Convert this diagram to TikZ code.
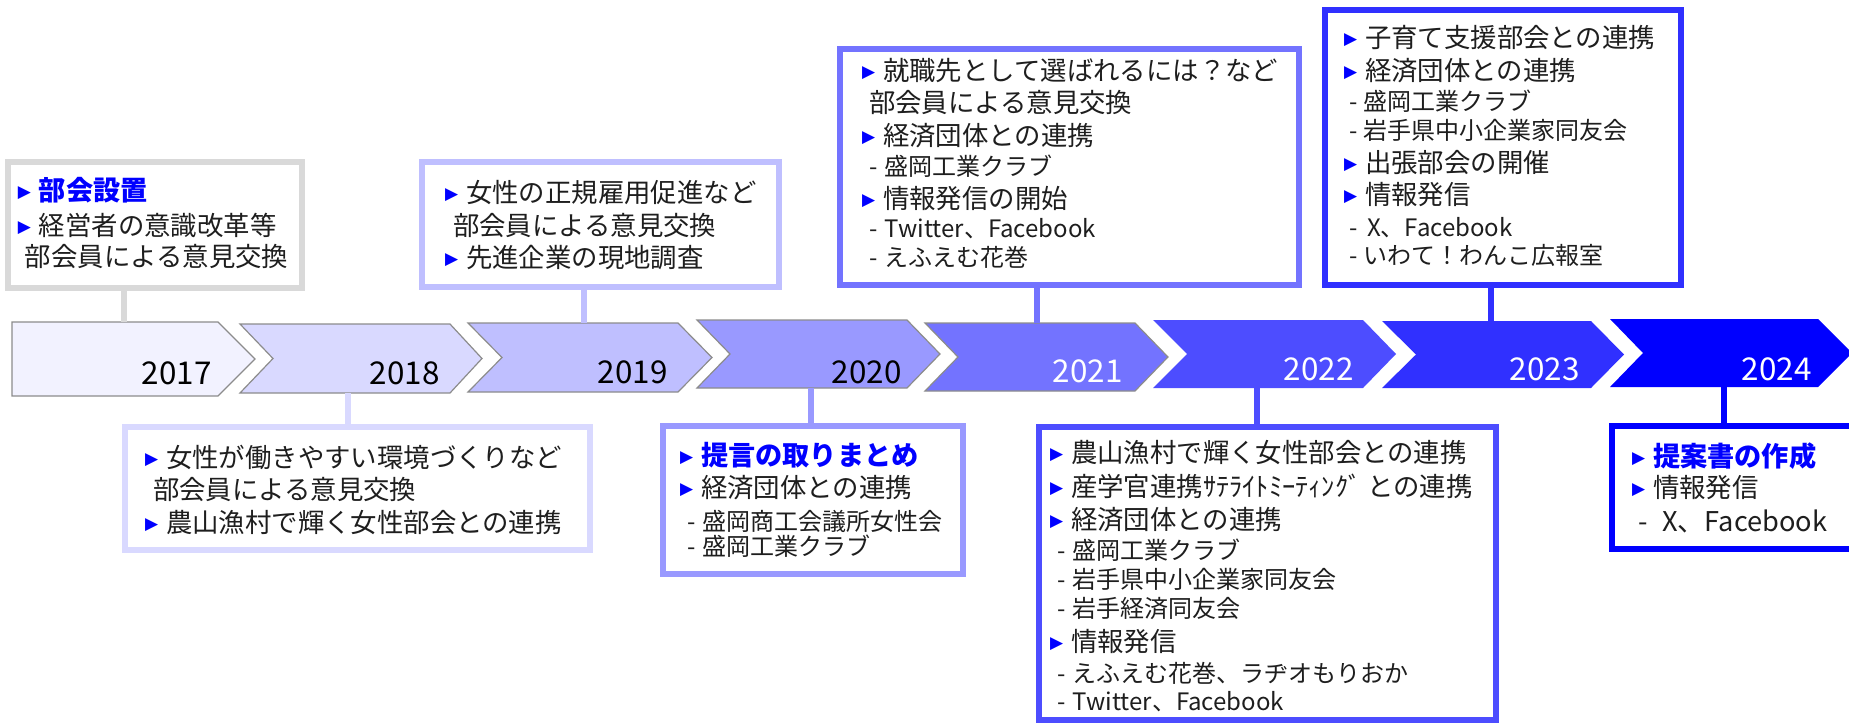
\documentclass[tikz,border=0pt]{standalone}
\usepackage{fontspec}
\setmainfont{Noto Sans CJK JP}
\newfontfamily\dejavu{DejaVu Sans}
\usetikzlibrary{fit}
\definecolor{c17}{HTML}{F2F2FF}
\definecolor{c18}{HTML}{D9D9FF}
\definecolor{c19}{HTML}{BFBFFF}
\definecolor{c20}{HTML}{9999FF}
\definecolor{c21}{HTML}{7373FF}
\definecolor{c22}{HTML}{4D4DFF}
\definecolor{c23}{HTML}{3030FF}
\definecolor{c24}{HTML}{0000FF}
\definecolor{g17}{HTML}{D9D9D9}
\definecolor{txt}{HTML}{1E1E1E}
\definecolor{bulblue}{HTML}{0000FF}
\newcommand\bul{\makebox[10.5pt][l]{\raisebox{1.4pt}{\dejavu\fontsize{8.5}{8.5}\selectfont\textcolor{bulblue}{▶}}}}
\newcommand\dsh[1][8pt]{\makebox[#1][l]{-}}
\newcommand\fmain{\fontsize{13.2}{15}\selectfont}
\newcommand\fsub{\fontsize{12}{14}\selectfont}
\newcommand\fbold{\fontsize{13.6}{15}\selectfont\bfseries\color{bulblue}}
\newcommand\fyear{\fontsize{15.7}{18}\selectfont}
\tikzset{
  ln/.style={anchor=base west, inner sep=0pt, outer sep=0pt, text=txt, font=\fmain},
  sub/.style={ln, font=\fsub},
  yr/.style={anchor=base east, inner sep=0pt, font=\fyear, text=#1},
  chev/.style={fill=#1, draw=black!45, line width=0.6pt},
  chevn/.style={fill=#1},
  box/.style={draw=#1, line width=3pt, fill=white, inner sep=0pt},
  conn/.style={draw=#1, line width=3pt}
}
\begin{document}
\begin{tikzpicture}[x=0.5pt,y=-0.5pt]
\useasboundingbox (0,0) rectangle (1849,723);
\clip (0,0) rectangle (1849,723);
% chevrons
\path[chev=c17] (12,322) -- (218,322) -- (255,359) -- (218,396) -- (12,396) -- cycle;
\path[chev=c18] (240,324) -- (450,324) -- (482,358.5) -- (450,393) -- (240,393) -- (273,358.5) -- cycle;
\path[chev=c19] (468,323) -- (678,323) -- (712,357.5) -- (678,392) -- (468,392) -- (502,357.5) -- cycle;
\path[chev=c20] (697,320) -- (907,320) -- (940,354) -- (907,388) -- (697,388) -- (730,354) -- cycle;
\path[chev=c21] (925,323) -- (1135,323) -- (1168,357) -- (1135,391) -- (925,391) -- (958,357) -- cycle;
\path[chevn=c22] (1153,320) -- (1363,320) -- (1396,354) -- (1363,388) -- (1153,388) -- (1187,354) -- cycle;
\path[chevn=c23] (1382,321) -- (1591,321) -- (1624,354.5) -- (1591,388) -- (1382,388) -- (1416,354.5) -- cycle;
\path[chevn=c24] (1610,319) -- (1818,319) -- (1852,353) -- (1818,387) -- (1610,387) -- (1643,353) -- cycle;
% years
\node[yr=black] (y17) at (212,384) {2017};
\node[yr=black] (y18) at (440,384) {2018};
\node[yr=black] (y19) at (668,383) {2019};
\node[yr=black] (y20) at (902,383) {2020};
\node[yr=white] (y21) at (1123,382) {2021};
\node[yr=white] (y22) at (1354,380) {2022};
\node[yr=white] (y23) at (1580,380) {2023};
\node[yr=white] (y24) at (1812,380) {2024};
% connector ends on chevrons
\coordinate (k17) at (124,322);
\coordinate (k18) at (348,393);
\coordinate (k19) at (584,323);
\coordinate (k20) at (811,388);
\coordinate (k21) at (1037,323);
\coordinate (k22) at (1257,388);
\coordinate (k23) at (1491,321);
\coordinate (k24) at (1724,387);
% boxes
\node[box=g17, fit={(8,162)(302,288)}] (b17) {};
\node[box=c19, fit={(422,162)(779,287)}] (b19) {};
\node[box=c21, fit={(840,49)(1299,285)}] (b21) {};
\node[box=c23, fit={(1325,10)(1681,285)}] (b23) {};
\node[box=c18, fit={(125,427)(590,550)}] (b18) {};
\node[box=c20, fit={(663,426)(963,574)}] (b20) {};
\node[box=c22, fit={(1039,427)(1496,720)}] (b22) {};
\node[box=c24, fit={(1612,426)(1870,549)}] (b24) {};
% connectors
\draw[conn=g17] (b17.south -| k17) -- (k17);
\draw[conn=c18] (k18) -- (b18.north -| k18);
\draw[conn=c19] (b19.south -| k19) -- (k19);
\draw[conn=c20] (k20) -- (b20.north -| k20);
\draw[conn=c21] (b21.south -| k21) -- (k21);
\draw[conn=c22] (k22) -- (b22.north -| k22);
\draw[conn=c23] (b23.south -| k23) -- (k23);
\draw[conn=c24] (k24) -- (b24.north -| k24);
% box 2017
\node[ln] (t17a) at (18,200.5) {\bul{\fbold 部会設置}};
\node[ln] (t17b) at (18,235) {\bul 経営者の意識改革等};
\node[ln] (t17c) at (25,266) {部会員による意見交換};
% box 2019
\node[ln] (t19a) at (445,202) {\bul 女性の正規雇用促進など};
\node[ln] (t19b) at (453,235) {部会員による意見交換};
\node[ln] (t19c) at (445,267) {\bul 先進企業の現地調査};
% box 2021
\node[ln] (t21a) at (862,80) {\bul 就職先として選ばれるには？など};
\node[ln] (t21b) at (869,112) {部会員による意見交換};
\node[ln] (t21c) at (862,145) {\bul 経済団体との連携};
\node[sub] (t21d) at (869,175) {\dsh 盛岡工業クラブ};
\node[ln] (t21e) at (862,208) {\bul 情報発信の開始};
\node[sub] (t21f) at (869,237) {\dsh Twitter、Facebook};
\node[sub] (t21g) at (869,266) {\dsh えふえむ花巻};
% box 2023
\node[ln] (t23a) at (1344,47) {\bul 子育て支援部会との連携};
\node[ln] (t23b) at (1344,80) {\bul 経済団体との連携};
\node[sub] (t23c) at (1349,110) {\dsh[7pt]盛岡工業クラブ};
\node[sub] (t23d) at (1349,139) {\dsh[7pt]岩手県中小企業家同友会};
\node[ln] (t23e) at (1344,172) {\bul 出張部会の開催};
\node[ln] (t23f) at (1344,204) {\bul 情報発信};
\node[sub] (t23g) at (1349,236) {\dsh[9pt]X、Facebook};
\node[sub] (t23h) at (1349,264) {\dsh[7pt]いわて！わんこ広報室};
% box 2018
\node[ln] (t18a) at (145,467) {\bul 女性が働きやすい環境づくりなど};
\node[ln] (t18b) at (153,499) {部会員による意見交換};
\node[ln] (t18c) at (145,532) {\bul 農山漁村で輝く女性部会との連携};
% box 2020
\node[ln] (t20a) at (680,465.5) {\bul{\fbold 提言の取りまとめ}};
\node[ln] (t20b) at (680,497) {\bul 経済団体との連携};
\node[sub] (t20c) at (687,530) {\dsh 盛岡商工会議所女性会};
\node[sub] (t20d) at (687,555) {\dsh 盛岡工業クラブ};
% box 2022
\node[ln] (t22a) at (1050,462) {\bul 農山漁村で輝く女性部会との連携};
\node[ln] (t22b) at (1050,496) {\bul 産学官連携ｻﾃﾗｲﾄﾐｰﾃｨﾝｸﾞ との連携};
\node[ln] (t22c) at (1050,529) {\bul 経済団体との連携};
\node[sub] (t22d) at (1057,559) {\dsh 盛岡工業クラブ};
\node[sub] (t22e) at (1057,588) {\dsh 岩手県中小企業家同友会};
\node[sub] (t22f) at (1057,617) {\dsh 岩手経済同友会};
\node[ln] (t22g) at (1050,651) {\bul 情報発信};
\node[sub] (t22h) at (1057,682) {\dsh えふえむ花巻、ラヂオもりおか};
\node[sub] (t22i) at (1057,710) {\dsh Twitter、Facebook};
% box 2024
\node[ln] (t24a) at (1632,466.5) {\bul{\fbold 提案書の作成}};
\node[ln] (t24b) at (1632,497) {\bul 情報発信};
\node[ln, font=\fontsize{13.6}{15}\selectfont] (t24c) at (1638,531) {\dsh[12pt]X、Facebook};
\end{tikzpicture}
\end{document}
